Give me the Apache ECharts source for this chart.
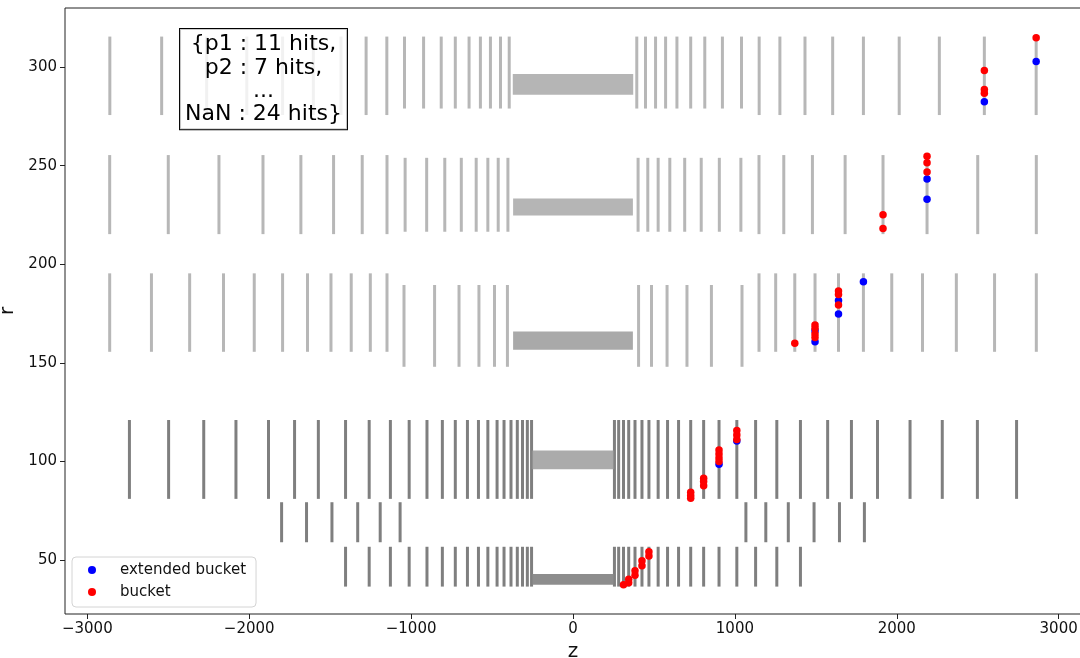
<!DOCTYPE html>
<html><head><meta charset="utf-8">
<script src="https://cdn.jsdelivr.net/npm/echarts@6/dist/echarts.min.js"></script>
<style>html,body{margin:0;padding:0;background:#fff}#c{width:1080px;height:658px}</style>
</head><body><div id="c"></div>
<script>
// ---- Endcap disk z positions and r extents, per layer group ----
const row1InnerZ = [-1041,-923,-814,-727,-642,-572,-510,-448,-394, 394,448,510,572,642,727,814,923,1041];
const row1InnerR = [279, 315.5];
const row1OuterZ = [-2861,-2541,-2263,-2015,-1794,-1604,-1433,-1278,-1150, 1150,1278,1433,1604,1794,2015,2263,2541,2861];
const row1OuterR = [275.7, 315.5];

const row2InnerZ = [-1037,-904,-792,-690,-598,-526,-462,-402, 402,462,526,598,690,792,904,1037];
const row2InnerR = [216.5, 254];
const row2OuterZ = [-2862,-2500,-2187,-1915,-1681,-1479,-1302,-1149, 1149,1302,1479,1681,1915,2187,2500,2862];
const row2OuterR = [215.3, 255.4];

const row3InnerZ = [-1044,-855,-704,-581,-485,-405, 405,485,581,704,855,1044];
const row3InnerR = [148, 189.5];
const row3OuterZ = [-2862,-2604,-2368,-2159,-1969,-1794,-1640,-1495,-1370,-1252,-1149, 1149,1252,1370,1495,1640,1794,1969,2159,2368,2604,2862];
const row3OuterR = [155.6, 195.4];

const row4Z = [-2740,-2498,-2281,-2082,-1881,-1720,-1573,-1405,-1259,-1128,-1012,-902,-807,-727,-652,-584,-526,-469,-426,-383,-344,-312,-282,-256,
               256,282,312,344,383,426,469,526,584,652,727,807,902,1012,1128,1259,1405,1573,1720,1881,2082,2281,2498,2740];
const row4R = [81, 121];

const row5Z = [-1800,-1646,-1489,-1330,-1191,-1068, 1068,1191,1330,1489,1646,1800];
const row5R = [59, 79.3];

const row6Z = [-1405,-1259,-1128,-1012,-902,-807,-727,-652,-584,-526,-469,-426,-383,-344,-312,-282,-256,
               256,282,312,344,383,426,469,526,584,652,727,807,902,1012,1128,1259,1405];
const row6R = [36.5, 56.7];

// ---- Barrel layers: z extent and r extent ----
const barrelZ = [[-372, 372], [-370, 370], [-370, 370], [-255, 255], [-255, 255]];
const barrelR = [[286, 296.5], [224.7, 233.4], [156.6, 165.9], [96, 105.5], [37.4, 42.9]];

// ---- Highlighted hits ----
const extZ = [2861, 2541, 2187, 2187, 1794, 1640, 1640, 1495, 1495, 1012, 902];
const extR = [302.9, 282.4, 243.3, 233.0, 191.1, 181.6, 174.8, 166.3, 160.7, 110.4, 98.6];
const bucketZ = [2861, 2541, 2541, 2541, 2187, 2187, 2187, 1915, 1915, 1640, 1640, 1640, 1495, 1495, 1495, 1495, 1370,
                 1012, 1012, 1012, 902, 902, 902, 902, 807, 807, 807, 727, 727, 727,
                 469, 469, 426, 426, 383, 383, 344, 344, 312];
const bucketR = [314.9, 298.3, 288.7, 286.7, 254.8, 251.5, 246.8, 225.1, 218.2, 186.4, 184.7, 179.3, 169.2, 167.5, 164.6, 162.9, 159.9,
                 115.7, 113.4, 111.1, 105.8, 103.7, 101.7, 99.9, 91.5, 89.8, 87.6, 84.4, 82.7, 81.3,
                 54.2, 52.0, 49.6, 47.1, 44.5, 42.3, 40.2, 38.5, 37.4];

// ---- Axis ticks ----
const xTicks = [-3000, -2000, -1000, 0, 1000, 2000, 3000];
const yTicks = [50, 100, 150, 200, 250, 300];

const FONT = 'DejaVu Sans';

function stripSeries(zs, rr, color, width) {
  return {
    type: 'custom', silent: true, clip: true, z: 1,
    data: zs.map(z => [z, rr[0], rr[1]]),
    encode: { x: 0, y: [1, 2] },
    renderItem: (params, api) => {
      const p0 = api.coord([api.value(0), api.value(1)]);
      const p1 = api.coord([api.value(0), api.value(2)]);
      return { type: 'line', shape: { x1: p0[0], y1: p0[1], x2: p1[0], y2: p1[1] },
               style: { stroke: color, lineWidth: width } };
    }
  };
}

function barrelSeries(colors) {
  return {
    type: 'custom', silent: true, clip: true, z: 1,
    data: barrelZ.map((zz, i) => [zz[0], zz[1], barrelR[i][0], barrelR[i][1]]),
    encode: { x: [0, 1], y: [2, 3] },
    renderItem: (params, api) => {
      const a = api.coord([api.value(0), api.value(3)]);
      const b = api.coord([api.value(1), api.value(2)]);
      return { type: 'rect', shape: { x: a[0], y: a[1], width: b[0] - a[0], height: b[1] - a[1] },
               style: { fill: colors[params.dataIndex] } };
    }
  };
}

const light = 'rgba(105,105,105,0.48)';
const dark = 'rgba(120,120,120,0.95)';

const chart = echarts.init(document.getElementById('c'));
chart.setOption({
  animation: false,
  backgroundColor: '#fff',
  grid: { left: 65, top: 8, width: 1016, height: 606, containLabel: false, outerBoundsMode: 'none',
          show: true, borderColor: '#222', borderWidth: 1, backgroundColor: 'transparent' },
  xAxis: {
    type: 'value', min: -3138, max: 3138,
    name: 'z', nameLocation: 'middle', nameGap: 24,
    nameTextStyle: { fontFamily: FONT, fontSize: 20, color: '#111' },
    axisLine: { show: false, onZero: false },
    splitLine: { show: false },
    axisTick: { show: true, inside: false, length: 5, customValues: xTicks, lineStyle: { color: '#222' } },
    axisLabel: { customValues: xTicks, margin: 8, fontFamily: FONT, fontSize: 15, color: '#111',
                 formatter: v => String(v).replace('-', '\u2212') }
  },
  yAxis: {
    type: 'value', min: 22.6, max: 330,
    name: 'r', nameLocation: 'middle', nameGap: 37,
    nameTextStyle: { fontFamily: FONT, fontSize: 20, color: '#111' },
    axisLine: { show: false, onZero: false },
    splitLine: { show: false },
    axisTick: { show: true, inside: false, length: 5, customValues: yTicks, lineStyle: { color: '#222' } },
    axisLabel: { customValues: yTicks, margin: 8, fontFamily: FONT, fontSize: 15, color: '#111' }
  },
  legend: {
    left: 72, top: 557, orient: 'vertical',
    data: ['extended bucket', 'bucket'],
    icon: 'circle', itemWidth: 8, itemHeight: 8, itemGap: 4,
    padding: [4, 10, 6, 16],
    borderColor: '#d4d4d4', borderWidth: 1, borderRadius: 4, backgroundColor: 'rgba(255,255,255,0.85)',
    textStyle: { fontFamily: FONT, fontSize: 15, color: '#111', lineHeight: 18, padding: [0, 0, 0, 19] }
  },
  graphic: [{
    type: 'text', x: 263.5, y: 29, z: 100,
    style: {
      text: '{p1 : 11 hits,\np2 : 7 hits,\n...\nNaN : 24 hits}',
      font: '22px DejaVu Sans', fill: '#000', align: 'center', verticalAlign: 'top', lineHeight: 23.3,
      backgroundColor: 'rgba(255,255,255,0.8)', borderColor: '#000', borderWidth: 1,
      padding: [4, 5, 3, 5]
    }
  }],
  series: [
    stripSeries(row1InnerZ, row1InnerR, light, 3),
    stripSeries(row1OuterZ, row1OuterR, light, 3),
    stripSeries(row2InnerZ, row2InnerR, light, 3),
    stripSeries(row2OuterZ, row2OuterR, light, 3),
    stripSeries(row3InnerZ, row3InnerR, light, 3),
    stripSeries(row3OuterZ, row3OuterR, light, 3),
    stripSeries(row4Z, row4R, dark, 3),
    stripSeries(row5Z, row5R, dark, 3),
    stripSeries(row6Z, row6R, dark, 3),
    barrelSeries(['rgba(150,150,150,0.7)', 'rgba(150,150,150,0.7)', 'rgba(140,140,140,0.75)', 'rgba(150,150,150,0.8)', 'rgba(135,135,135,0.95)']),
    {
      name: 'extended bucket', type: 'scatter', z: 5,
      data: extZ.map((z, i) => [z, extR[i]]),
      symbol: 'circle', symbolSize: 7.5,
      itemStyle: { color: '#0000ff', opacity: 1 }
    },
    {
      name: 'bucket', type: 'scatter', z: 6,
      data: bucketZ.map((z, i) => [z, bucketR[i]]),
      symbol: 'circle', symbolSize: 7.5,
      itemStyle: { color: '#ff0000', opacity: 1 }
    }
  ]
});
</script></body></html>
